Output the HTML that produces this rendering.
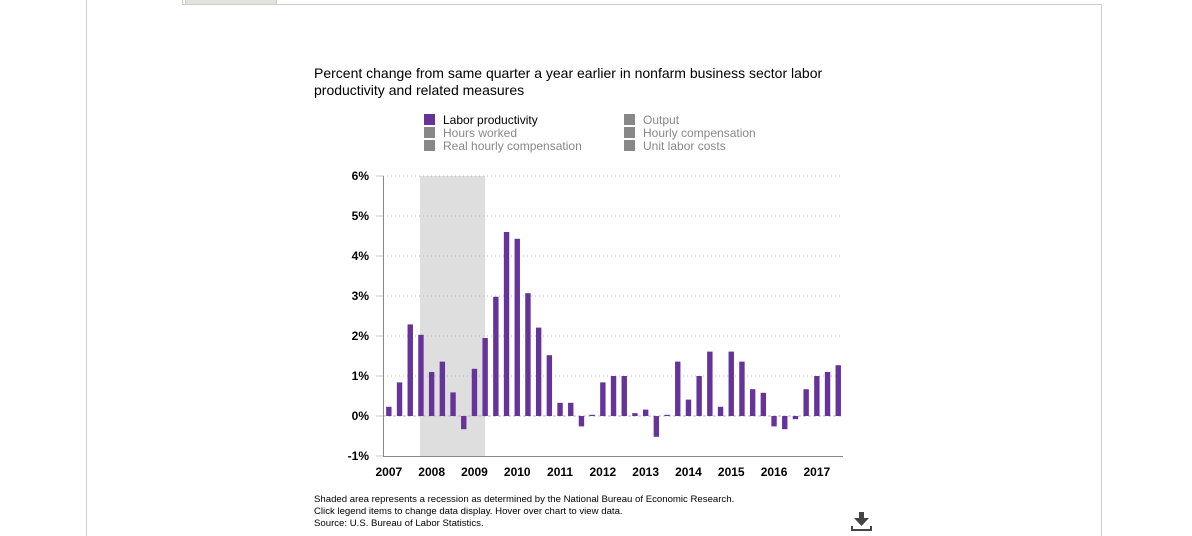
<!DOCTYPE html>
<html><head><meta charset="utf-8"><style>
body{margin:0;width:1192px;height:536px;background:#fff;overflow:hidden;font-family:"Liberation Sans",Arial,sans-serif;position:relative}
</style></head><body>
<div style="position:absolute;left:86px;top:0;width:1px;height:536px;background:#ccc"></div>
<div style="position:absolute;left:182px;top:4px;width:919px;height:1px;background:#ccc"></div>
<div style="position:absolute;left:182px;top:0;width:1px;height:5px;background:#ccc"></div>
<div style="position:absolute;left:1101px;top:4px;width:1px;height:532px;background:#ccc"></div>
<div style="position:absolute;left:185px;top:0;width:90px;height:4px;background:#e0e4dc;border-right:1px solid #ccc;border-left:1px solid #ccc"></div>
<svg width="1192" height="536" style="position:absolute;left:0;top:0" font-family="Liberation Sans, Arial, sans-serif">
<text x="314" y="78" font-size="14" fill="#000">Percent change from same quarter a year earlier in nonfarm business sector labor</text>
<text x="314" y="95" font-size="14" fill="#000">productivity and related measures</text>
<g font-size="12">
<rect x="424" y="114" width="11" height="11" fill="#663399"/>
<text x="443" y="124" fill="#000">Labor productivity</text>
<rect x="424" y="127" width="11" height="11" fill="#888"/>
<text x="443" y="137" fill="#888">Hours worked</text>
<rect x="424" y="140" width="11" height="11" fill="#888"/>
<text x="443" y="150" fill="#888">Real hourly compensation</text>
<rect x="624" y="114" width="11" height="11" fill="#888"/>
<text x="643" y="124" fill="#888">Output</text>
<rect x="624" y="127" width="11" height="11" fill="#888"/>
<text x="643" y="137" fill="#888">Hourly compensation</text>
<rect x="624" y="140" width="11" height="11" fill="#888"/>
<text x="643" y="150" fill="#888">Unit labor costs</text>
</g>
<g id="plot"></g>
<g font-size="9.6" fill="#000">
<text x="314" y="502">Shaded area represents a recession as determined by the National Bureau of Economic Research.</text>
<text x="314" y="514">Click legend items to change data display. Hover over chart to view data.</text>
<text x="314" y="526">Source: U.S. Bureau of Labor Statistics.</text>
</g>
<g fill="#444">
<rect x="859" y="512" width="5" height="7"/>
<polygon points="854,518 869,518 861.5,526"/>
<rect x="851" y="529" width="21" height="2"/>
<rect x="851" y="526" width="2" height="5"/>
<rect x="870" y="526" width="2" height="5"/>
</g>
</svg>
<script>
const years = ["2007","2008","2009","2010","2011","2012","2013","2014","2015","2016","2017"];
const yTicks = [-1,0,1,2,3,4,5,6];
const productivity = [0.23,0.84,2.29,2.03,1.1,1.36,0.59,-0.33,1.18,1.95,2.98,4.6,4.43,3.07,2.21,1.52,0.33,0.33,-0.26,0.03,0.84,1.0,1.0,0.07,0.16,-0.52,0.03,1.36,0.41,1.0,1.61,0.23,1.61,1.36,0.67,0.58,-0.26,-0.33,-0.08,0.67,1.0,1.1,1.27];
const recession = [3,9];
const NS="http://www.w3.org/2000/svg";
const g=document.getElementById('plot');
const X0=383.5, STEP=10.7, Y0=416, PPU=40;
const xq=i=>X0+STEP*(i+0.5);
const yv=v=>Y0-v*PPU;
function mk(tag,attrs){const e=document.createElementNS(NS,tag);for(const k in attrs)e.setAttribute(k,attrs[k]);g.appendChild(e);return e;}
const rec=mk('rect',{x:xq(recession[0])-1,y:yv(6),width:xq(recession[1])-xq(recession[0])+1,height:yv(-1)-yv(6),fill:'#dedede'});


yTicks.forEach(t=>{
  if(t>0){const l=mk('line',{x1:383,x2:843,y1:yv(t),y2:yv(t),stroke:'#bbb','stroke-dasharray':'1,3'});
  
  }
  const tk=mk('line',{x1:376,x2:383,y1:yv(t),y2:yv(t),stroke:'#bcd'});
  
  
  const tx=mk('text',{x:369,y:yv(t)+4,'text-anchor':'end','font-size':12,'font-weight':'bold',fill:'#000'});
  tx.textContent=t+'%';
  
  
});
const zl=mk('line',{x1:383,x2:843,y1:Y0,y2:Y0,stroke:'#bbb','stroke-dasharray':'3,2'});


productivity.forEach((v,i)=>{
  const y=Math.min(yv(v),Y0), h=Math.max(Math.abs(yv(v)-Y0),0.8);
  const b=mk('rect',{x:xq(i)-2.7,y:y,width:5.4,height:h,fill:'#663399'});
  
  
});
const ya=mk('line',{x1:383.5,x2:383.5,y1:yv(6),y2:yv(-1),stroke:'#888'});


const xa=mk('line',{x1:383,x2:843,y1:yv(-1)+0.5,y2:yv(-1)+0.5,stroke:'#888'});


years.forEach((yr,k)=>{
  const t=mk('text',{x:xq(k*4),y:476,'text-anchor':'middle','font-size':12,'font-weight':'bold',fill:'#000'});
  t.textContent=yr;
  
  
});
</script>
</body></html>
